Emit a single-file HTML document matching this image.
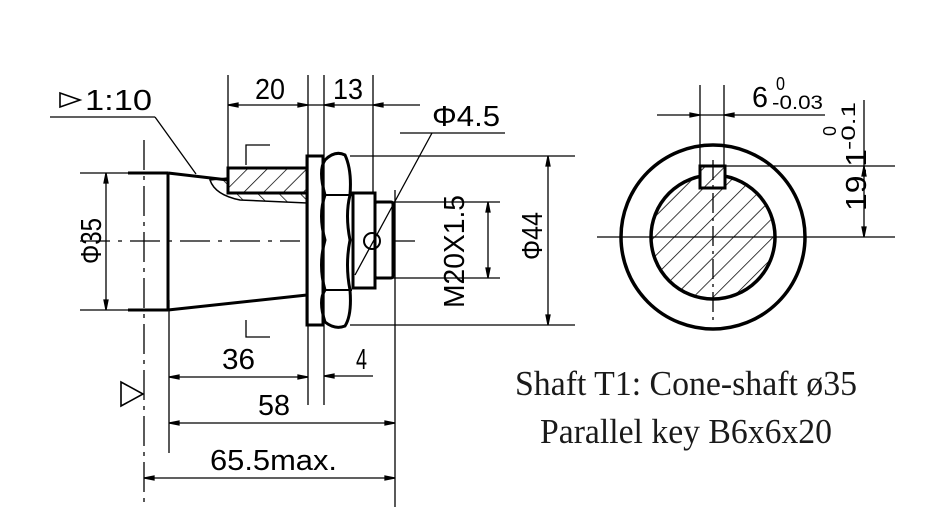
<!DOCTYPE html>
<html><head><meta charset="utf-8"><style>
html,body{margin:0;padding:0;background:#fff;}
svg{display:block;}
.t{font-family:"Liberation Sans",sans-serif;font-size:29px;fill:#000;}
.s{font-family:"Liberation Serif",serif;font-size:35px;fill:#1a1a1a;}
</style></head><body>
<svg width="937" height="518" viewBox="0 0 937 518" xmlns="http://www.w3.org/2000/svg">
<defs>
<pattern id="h" patternUnits="userSpaceOnUse" width="14" height="14" patternTransform="rotate(45)">
<line x1="0" y1="0" x2="0" y2="14" stroke="#000" stroke-width="1.5"/></pattern>
<pattern id="h2" patternUnits="userSpaceOnUse" width="15" height="15" patternTransform="rotate(-45)">
<line x1="0" y1="0" x2="0" y2="15" stroke="#000" stroke-width="1.5"/></pattern>
</defs>
<g stroke="#000" fill="none" stroke-width="1.3">
<line x1="80" y1="173" x2="142" y2="173"/><line x1="80" y1="310" x2="142" y2="310"/>
<line x1="106" y1="173" x2="106" y2="310"/>
<path d="M106 173 l-2 10 h4z M106 310 l-2 -10 h4z" fill="#000"/>
<line x1="144" y1="140" x2="144" y2="507" stroke-dasharray="30 6 4 6"/>
<line x1="80" y1="241" x2="300" y2="241" stroke-dasharray="30 8 4 8"/>
<g stroke-width="3">
<line x1="128" y1="173" x2="168" y2="173"/><line x1="128" y1="310" x2="168" y2="310"/>
<line x1="168" y1="173" x2="168" y2="310"/>
<polyline points="168,173 228,180"/>
<line x1="168" y1="310" x2="307" y2="295"/>
</g>
<rect x="228" y="168" width="79" height="25" fill="url(#h)" stroke-width="3"/>
<path d="M210 180 Q215 195 240 200 L307 203 L307 193 L228 193 L228 178 Z" fill="url(#h2)" stroke-width="1.5"/>
<rect x="307" y="156" width="16" height="169" stroke-width="3" fill="#fff"/>
<path d="M325 160 Q335 150 345 155 Q352 170 350 195 Q345 215 350 240 Q345 265 350 290 Q352 315 345 326 Q335 330 325 322 Q318 300 325 290 Q318 265 325 240 Q318 215 325 195 Q318 170 325 160Z" stroke-width="3"/>
<line x1="325" y1="195" x2="352" y2="195" stroke-width="2"/><line x1="325" y1="290" x2="352" y2="290" stroke-width="2"/>
<rect x="353" y="193" width="22" height="95" stroke-width="3"/>
<rect x="375" y="202" width="18" height="76" stroke-width="3" rx="2"/>
<circle cx="372" cy="241" r="8" stroke-width="2"/>
<line x1="228" y1="75" x2="228" y2="168"/>
<line x1="308" y1="75" x2="308" y2="405"/>
<line x1="324" y1="75" x2="324" y2="405"/>
<line x1="373" y1="75" x2="373" y2="193"/>
<line x1="228" y1="105" x2="420" y2="105"/>
<path d="M228 105 l10 -2 v4z M308 105 l-10 -2 v4z M324 105 l10 -2 v4z M373 105 l10 -2 v4z" fill="#000"/>
<line x1="50" y1="117" x2="155" y2="117"/><line x1="155" y1="117" x2="196" y2="174"/>
<polygon points="60,93 60,107 80,100" stroke-width="1.6"/>
<line x1="400" y1="133" x2="505" y2="133"/><line x1="432" y1="133" x2="355" y2="275"/>
<polyline points="246,165 246,145 270,145"/><polyline points="246,320 246,337 270,337"/>
<line x1="350" y1="156" x2="575" y2="156"/><line x1="350" y1="325" x2="575" y2="325"/>
<line x1="548" y1="156" x2="548" y2="325"/>
<path d="M548 156 l-2 10 h4z M548 325 l-2 -10 h4z" fill="#000"/>
<line x1="393" y1="202" x2="500" y2="202"/><line x1="393" y1="278" x2="500" y2="278"/>
<line x1="488" y1="202" x2="488" y2="278"/>
<path d="M488 202 l-2 10 h4z M488 278 l-2 -10 h4z" fill="#000"/>
<line x1="393" y1="241" x2="415" y2="241"/>
<line x1="169" y1="300" x2="169" y2="453"/>
<line x1="395" y1="190" x2="395" y2="507"/>
<line x1="169" y1="377" x2="308" y2="377"/><line x1="324" y1="376" x2="373" y2="376"/>
<line x1="169" y1="423" x2="395" y2="423"/><line x1="144" y1="478" x2="395" y2="478"/>
<path d="M169 377 l10 -2 v4z M308 377 l-10 -2 v4z M324 376 l10 -2 v4z M169 423 l10 -2 v4z M395 423 l-10 -2 v4z M144 478 l10 -2 v4z M395 478 l-10 -2 v4z" fill="#000"/>
<polygon points="121,382 121,406 143,394" stroke-width="1.6"/>
<circle cx="713" cy="237" r="92" stroke-width="3.5"/>
<circle cx="713" cy="237" r="62" fill="url(#h)" stroke-width="3.5"/>
<rect x="700" y="166" width="25" height="22" fill="#fff" stroke-width="3"/>
<rect x="700" y="166" width="25" height="22" fill="url(#h)" stroke-width="3"/>
<line x1="597" y1="237" x2="895" y2="237"/>
<line x1="713" y1="160" x2="713" y2="320" stroke-dasharray="20 5 3 5"/>
<line x1="700" y1="85" x2="700" y2="166"/><line x1="724" y1="85" x2="724" y2="166"/>
<line x1="657" y1="115" x2="825" y2="115"/>
<path d="M700 115 l-10 -2 v4z M724 115 l10 -2 v4z" fill="#000"/>
<line x1="725" y1="166" x2="895" y2="166"/>
<line x1="864" y1="100" x2="864" y2="237"/>
<path d="M864 166 l-2 10 h4z M864 237 l-2 -10 h4z" fill="#000"/>
</g>
<g class="t">
<text x="85" y="110" textLength="67" lengthAdjust="spacingAndGlyphs">1:10</text>
<text x="255" y="99" textLength="30" lengthAdjust="spacingAndGlyphs">20</text>
<text x="333" y="99" textLength="30" lengthAdjust="spacingAndGlyphs">13</text>
<text x="432" y="126" textLength="68" lengthAdjust="spacingAndGlyphs">Φ4.5</text>
<text x="222" y="369" textLength="33" lengthAdjust="spacingAndGlyphs">36</text>
<text x="356" y="369" textLength="11" lengthAdjust="spacingAndGlyphs">4</text>
<text x="258" y="415" textLength="32" lengthAdjust="spacingAndGlyphs">58</text>
<text x="210" y="470" textLength="127" lengthAdjust="spacingAndGlyphs">65.5max.</text>
<text transform="translate(101,264) rotate(-90)" textLength="46" lengthAdjust="spacingAndGlyphs">Φ35</text>
<text transform="translate(542,260) rotate(-90)" textLength="48" lengthAdjust="spacingAndGlyphs">Φ44</text>
<text transform="translate(464,308) rotate(-90)" textLength="113" lengthAdjust="spacingAndGlyphs">M20X1.5</text>
<text x="752" y="107" textLength="16" lengthAdjust="spacingAndGlyphs">6</text>
<text x="776" y="90" font-size="18" textLength="9" lengthAdjust="spacingAndGlyphs">0</text>
<text x="772" y="109" font-size="19" textLength="51" lengthAdjust="spacingAndGlyphs">-0.03</text>
<text transform="translate(866,211) rotate(-90)" textLength="62" lengthAdjust="spacingAndGlyphs">19.1</text>
<text transform="translate(836,136) rotate(-90)" font-size="18" textLength="10" lengthAdjust="spacingAndGlyphs">0</text>
<text transform="translate(855,150) rotate(-90)" font-size="19" textLength="48" lengthAdjust="spacingAndGlyphs">-0.1</text>
</g>
<text class="s" x="515" y="395" textLength="342" lengthAdjust="spacingAndGlyphs">Shaft T1: Cone-shaft ø35</text>
<text class="s" x="540" y="443" textLength="292" lengthAdjust="spacingAndGlyphs">Parallel key B6x6x20</text>
</svg>
</body></html>
